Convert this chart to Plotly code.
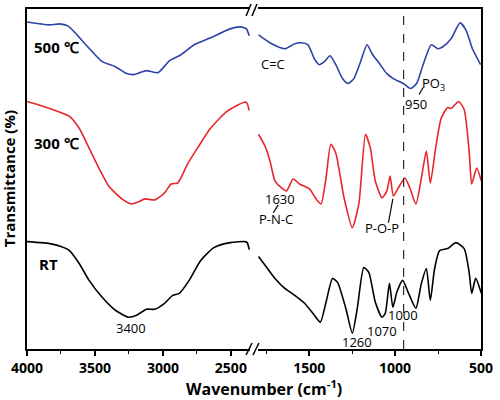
import plotly.graph_objects as go

# ---- data (wavenumber in cm-1, transmittance in arbitrary offset units) ----
t500_left_wn = [4000, 3900, 3833, 3760, 3700, 3652, 3567, 3447, 3350, 3266, 3217, 3169, 3121, 3036, 2951, 2867, 2770, 2650, 2507, 2430, 2400, 2385, 2365]
t500_left_t = [329, 327, 326, 327, 325, 319, 306, 289, 284, 277, 276, 278, 280, 278, 290, 296, 306, 313, 322, 324, 323, 322, 315]
t500_right_wn = [1795, 1718, 1642, 1584, 1546, 1507, 1470, 1441, 1412, 1379, 1345, 1306, 1274, 1240, 1201, 1163, 1134, 1086, 1048, 1010, 952, 910, 875, 837, 789, 751, 722, 674, 622, 588, 550, 502]
t500_right_t = [316, 307, 302, 307, 308, 306, 292, 286, 289, 295, 286, 272, 267, 272, 289, 306, 297, 286, 277, 272, 267, 262, 267, 286, 306, 302, 304, 312, 328, 321, 302, 286]

t300_left_wn = [4000, 3900, 3833, 3688, 3616, 3543, 3471, 3399, 3302, 3232, 3180, 3133, 3060, 2988, 2940, 2891, 2819, 2746, 2650, 2529, 2408, 2385, 2365]
t300_left_t = [249, 245, 242, 234, 222, 202, 182, 164, 151, 146, 148, 151, 150, 157, 166, 167, 186, 202, 222, 239, 248, 248, 240]
t300_right_wn = [1795, 1757, 1728, 1699, 1661, 1632, 1594, 1556, 1498, 1460, 1431, 1402, 1374, 1345, 1297, 1249, 1211, 1172, 1144, 1115, 1076, 1048, 1029, 1010, 981, 943, 914, 879, 847, 818, 795, 764, 732, 694, 674, 630, 598, 569, 554, 525, 498]
t300_right_t = [216, 204, 189, 169, 162, 159, 171, 166, 161, 151, 146, 172, 206, 197, 152, 122, 146, 216, 202, 169, 152, 159, 174, 154, 162, 172, 162, 146, 172, 199, 167, 202, 232, 243, 242, 249, 241, 199, 166, 182, 169]

rt_left_wn = [4000, 3900, 3833, 3750, 3688, 3616, 3543, 3447, 3350, 3254, 3193, 3121, 3060, 2988, 2928, 2879, 2807, 2722, 2625, 2505, 2396, 2380, 2365]
rt_left_t = [108, 107, 106, 103, 99, 86, 69, 52, 39, 32, 34, 40, 40, 46, 54, 56, 69, 89, 102, 107, 108, 107, 100]
rt_right_wn = [1795, 1747, 1699, 1642, 1584, 1527, 1470, 1435, 1402, 1364, 1335, 1287, 1249, 1220, 1182, 1153, 1115, 1076, 1057, 1033, 1013, 990, 956, 924, 879, 847, 818, 795, 770, 741, 694, 646, 598, 569, 554, 531, 498]
rt_right_t = [93, 82, 71, 61, 54, 46, 34, 27, 47, 71, 67, 41, 16, 41, 82, 77, 47, 32, 36, 66, 42, 57, 69, 57, 41, 66, 81, 49, 81, 99, 101, 107, 101, 77, 56, 71, 56]

left_ticks = [4000, 3500, 3000, 2500]
right_ticks = [1500, 1000, 500]
marker_line_wn = 950

BLUE = "#2e43a6"
RED = "#e8272d"
BLACK = "#000000"

fig = go.Figure()
series = [
    (t500_left_wn, t500_left_t, t500_right_wn, t500_right_t, BLUE),
    (t300_left_wn, t300_left_t, t300_right_wn, t300_right_t, RED),
    (rt_left_wn, rt_left_t, rt_right_wn, rt_right_t, BLACK),
]
for lw, lt, rw, rt, col in series:
    fig.add_trace(go.Scatter(x=lw, y=lt, mode="lines", xaxis="x", yaxis="y",
                             line=dict(color=col, width=1.6, shape="spline", smoothing=0.6),
                             showlegend=False, hoverinfo="skip"))
    fig.add_trace(go.Scatter(x=rw, y=rt, mode="lines", xaxis="x2", yaxis="y2",
                             line=dict(color=col, width=1.6, shape="spline", smoothing=0.6),
                             showlegend=False, hoverinfo="skip"))

tickfont = dict(family="Open Sans", size=14, color="black", weight="bold")
common_x = dict(showline=True, linecolor="black", linewidth=1.5, mirror=True,
                ticks="outside", ticklen=5, tickwidth=1.5, tickcolor="black",
                showgrid=False, zeroline=False, tickfont=tickfont,
                minor=dict(dtick=250, ticks="outside", ticklen=3, tickwidth=1.2, tickcolor="black"))
common_y = dict(range=[0, 342], showline=True, linecolor="black", linewidth=1.5,
                showticklabels=False, ticks="", showgrid=False, zeroline=False)

fig.update_layout(
    width=500, height=400,
    margin=dict(l=27, r=13, t=7, b=51),
    paper_bgcolor="white", plot_bgcolor="white",
    font=dict(family="Open Sans", color="black"),
    xaxis=dict(domain=[0, 0.491], range=[4000, 2360], tickvals=left_ticks, anchor="y", **common_x),
    xaxis2=dict(domain=[0.508, 1], range=[1800, 500], tickvals=right_ticks, anchor="y2", **common_x),
    yaxis=dict(anchor="x", **common_y),
    yaxis2=dict(anchor="x2", side="right", matches="y", **common_y),
)

# dashed reference line at 950 cm-1
fig.add_shape(type="line", xref="x2", yref="paper", x0=marker_line_wn, x1=marker_line_wn, y0=0, y1=1,
              line=dict(color="black", width=1, dash="dash"))

# axis break marks (paper coordinates)
def px2paper(px, py):
    return (px - 27) / 460, (349 - py) / 342

for (ax0, ay0, ax1, ay1) in [(249, 14, 254, 2), (255, 14, 260, 2), (249, 355, 255, 343), (256, 355, 262, 343)]:
    x0, y0 = px2paper(ax0, ay0)
    x1, y1 = px2paper(ax1, ay1)
    fig.add_shape(type="line", xref="paper", yref="paper", x0=x0, y0=y0, x1=x1, y1=y1,
                  line=dict(color="black", width=1.5))

# pointer lines
for (xr, yr, x0, y0, x1, y1) in [("x2", "y2", 860, 256, 837, 263),
                                 ("x2", "y2", 1709, 137, 1680, 145),
                                 ("x2", "y2", 1039, 127, 1013, 151)]:
    fig.add_shape(type="line", xref=xr, yref=yr, x0=x0, y0=y0, x1=x1, y1=y1,
                  line=dict(color="black", width=1.2))

bold15 = dict(family="Open Sans", size=15, color="black", weight="bold")
reg13 = dict(family="Open Sans", size=13, color="black")
labels = [
    ("x", "y", 3964, 304, "500 ℃", bold15, "left"),
    ("x", "y", 3964, 207, "300 ℃", bold15, "left"),
    ("x", "y", 3927, 86, "RT", bold15, "left"),
    ("x", "y", 3238, 21, "3400", reg13, "center"),
    ("x2", "y2", 1713, 287, "C=C", reg13, "center"),
    ("x2", "y2", 776, 267, "PO<sub>3</sub>", reg13, "center"),
    ("x2", "y2", 879, 246, "950", reg13, "center"),
    ("x2", "y2", 1672, 151, "1630", reg13, "center"),
    ("x2", "y2", 1695, 131, "P-N-C", reg13, "center"),
    ("x2", "y2", 1075, 122, "P-O-P", reg13, "center"),
    ("x2", "y2", 1224, 7, "1260", reg13, "center"),
    ("x2", "y2", 1075, 18, "1070", reg13, "center"),
    ("x2", "y2", 954, 34, "1000", reg13, "center"),
]
for xr, yr, x, y, txt, f, xa in labels:
    fig.add_annotation(xref=xr, yref=yr, x=x, y=y, text=txt, showarrow=False,
                       font=f, xanchor=xa, yanchor="middle")

# axis titles
fig.add_annotation(xref="paper", yref="paper", x=(267 - 27) / 460, y=(349 - 388) / 342,
                   text="Wavenumber (cm<sup>-1</sup>)", showarrow=False,
                   font=dict(family="Open Sans", size=16, color="black", weight="bold"),
                   xanchor="center", yanchor="middle")
fig.add_annotation(xref="paper", yref="paper", x=(9 - 27) / 460, y=0.5,
                   text="Transmittance (%)", showarrow=False, textangle=-90,
                   font=dict(family="Open Sans", size=15, color="black", weight="bold"),
                   xanchor="center", yanchor="middle")

fig.write_html("out.html", config={"displayModeBar": False},
               post_script="document.body.style.margin='0';document.body.style.padding='0';document.body.style.overflow='hidden';")
